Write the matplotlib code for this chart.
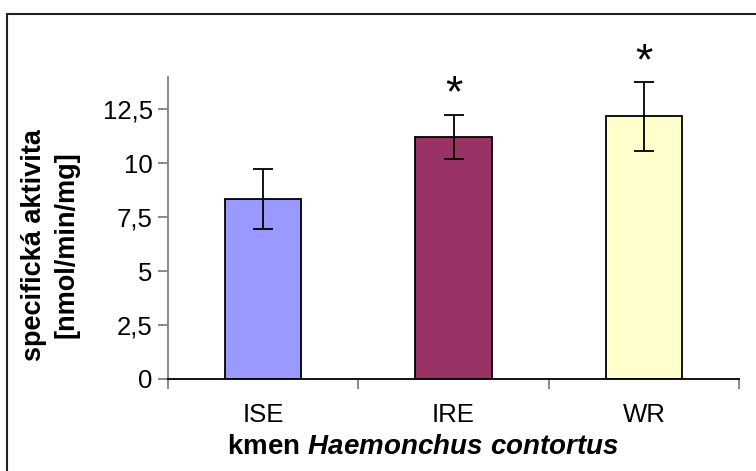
import matplotlib
matplotlib.use("Agg")
import matplotlib.pyplot as plt
from matplotlib.patches import Rectangle

categories = ["ISE", "IRE", "WR"]
values = [8.35, 11.22, 12.17]
errors = [1.40, 1.03, 1.58]
colors = ["#9999FF", "#993366", "#FFFFCC"]
significant = [False, True, True]
yticks = [0, 2.5, 5, 7.5, 10, 12.5]
ytick_labels = ["0", "2,5", "5", "7,5", "10", "12,5"]

plt.rcParams['font.family'] = ['Liberation Sans', 'DejaVu Sans']
plt.rcParams['mathtext.fontset'] = 'custom'
plt.rcParams['mathtext.rm'] = 'Liberation Sans:bold'
plt.rcParams['mathtext.it'] = 'Liberation Sans:italic:bold'
plt.rcParams['mathtext.bf'] = 'Liberation Sans:bold'

fig = plt.figure(figsize=(7.56, 4.71), dpi=100)
fig.patches.append(Rectangle((7/756, -0.1), 1.2, 1.1 - 14/471, transform=fig.transFigure,
                             fill=False, edgecolor="#222222", linewidth=1.5, clip_on=False))
ax = fig.add_axes([168/756, 1 - 379/471, (739-168)/756, (379-77)/471])

x = [i + 0.5 for i in range(len(categories))]
ax.bar(x, values, width=0.4, color=colors, edgecolor="black", linewidth=1.3, zorder=2)
ax.errorbar(x, values, yerr=errors, fmt="none", ecolor="black", elinewidth=1.3,
            capsize=7, capthick=1.3, zorder=3)
for xi, v, e, s in zip(x, values, errors, significant):
    if s:
        ax.text(xi, v + e - 0.05, "*", ha="center", va="bottom", fontsize=32,
                clip_on=False)

ax.set_xlim(0, 3)
ax.set_ylim(0, 14)
ax.set_yticks(yticks)
ax.set_yticklabels(ytick_labels, fontsize=18.5)
ax.set_xticks([0, 1, 2, 3])
ax.set_xticklabels([])
ax.set_xticks(x, minor=True)
ax.set_xticklabels(categories, minor=True, fontsize=18.5)
ax.tick_params(axis="x", which="minor", length=0, pad=17)
ax.tick_params(axis="x", which="major", length=7, width=1.3, color="#808080", direction="out")
ax.tick_params(axis="y", length=7, width=1.3, color="#808080", direction="out", pad=4)

for s in ["top", "right"]:
    ax.spines[s].set_visible(False)
ax.spines["left"].set_color("#808080")
ax.spines["left"].set_linewidth(1.3)
ax.spines["bottom"].set_color("black")
ax.spines["bottom"].set_linewidth(1.3)

ax.set_ylabel("specifická aktivita\n[nmol/min/mg]", fontsize=19.5, fontweight="bold",
              linespacing=1.3)
ax.yaxis.set_label_coords(-0.155, (379 - 245) / 302)
ax.set_xlabel(r"$\mathrm{kmen}\ \mathit{Haemonchus\ contortus}$", fontsize=20)
ax.xaxis.set_label_coords((423 - 168) / 571, -(447 - 379) / 302)
ax.xaxis.label.set_va("center")

fig.savefig("out.png", dpi=100)
